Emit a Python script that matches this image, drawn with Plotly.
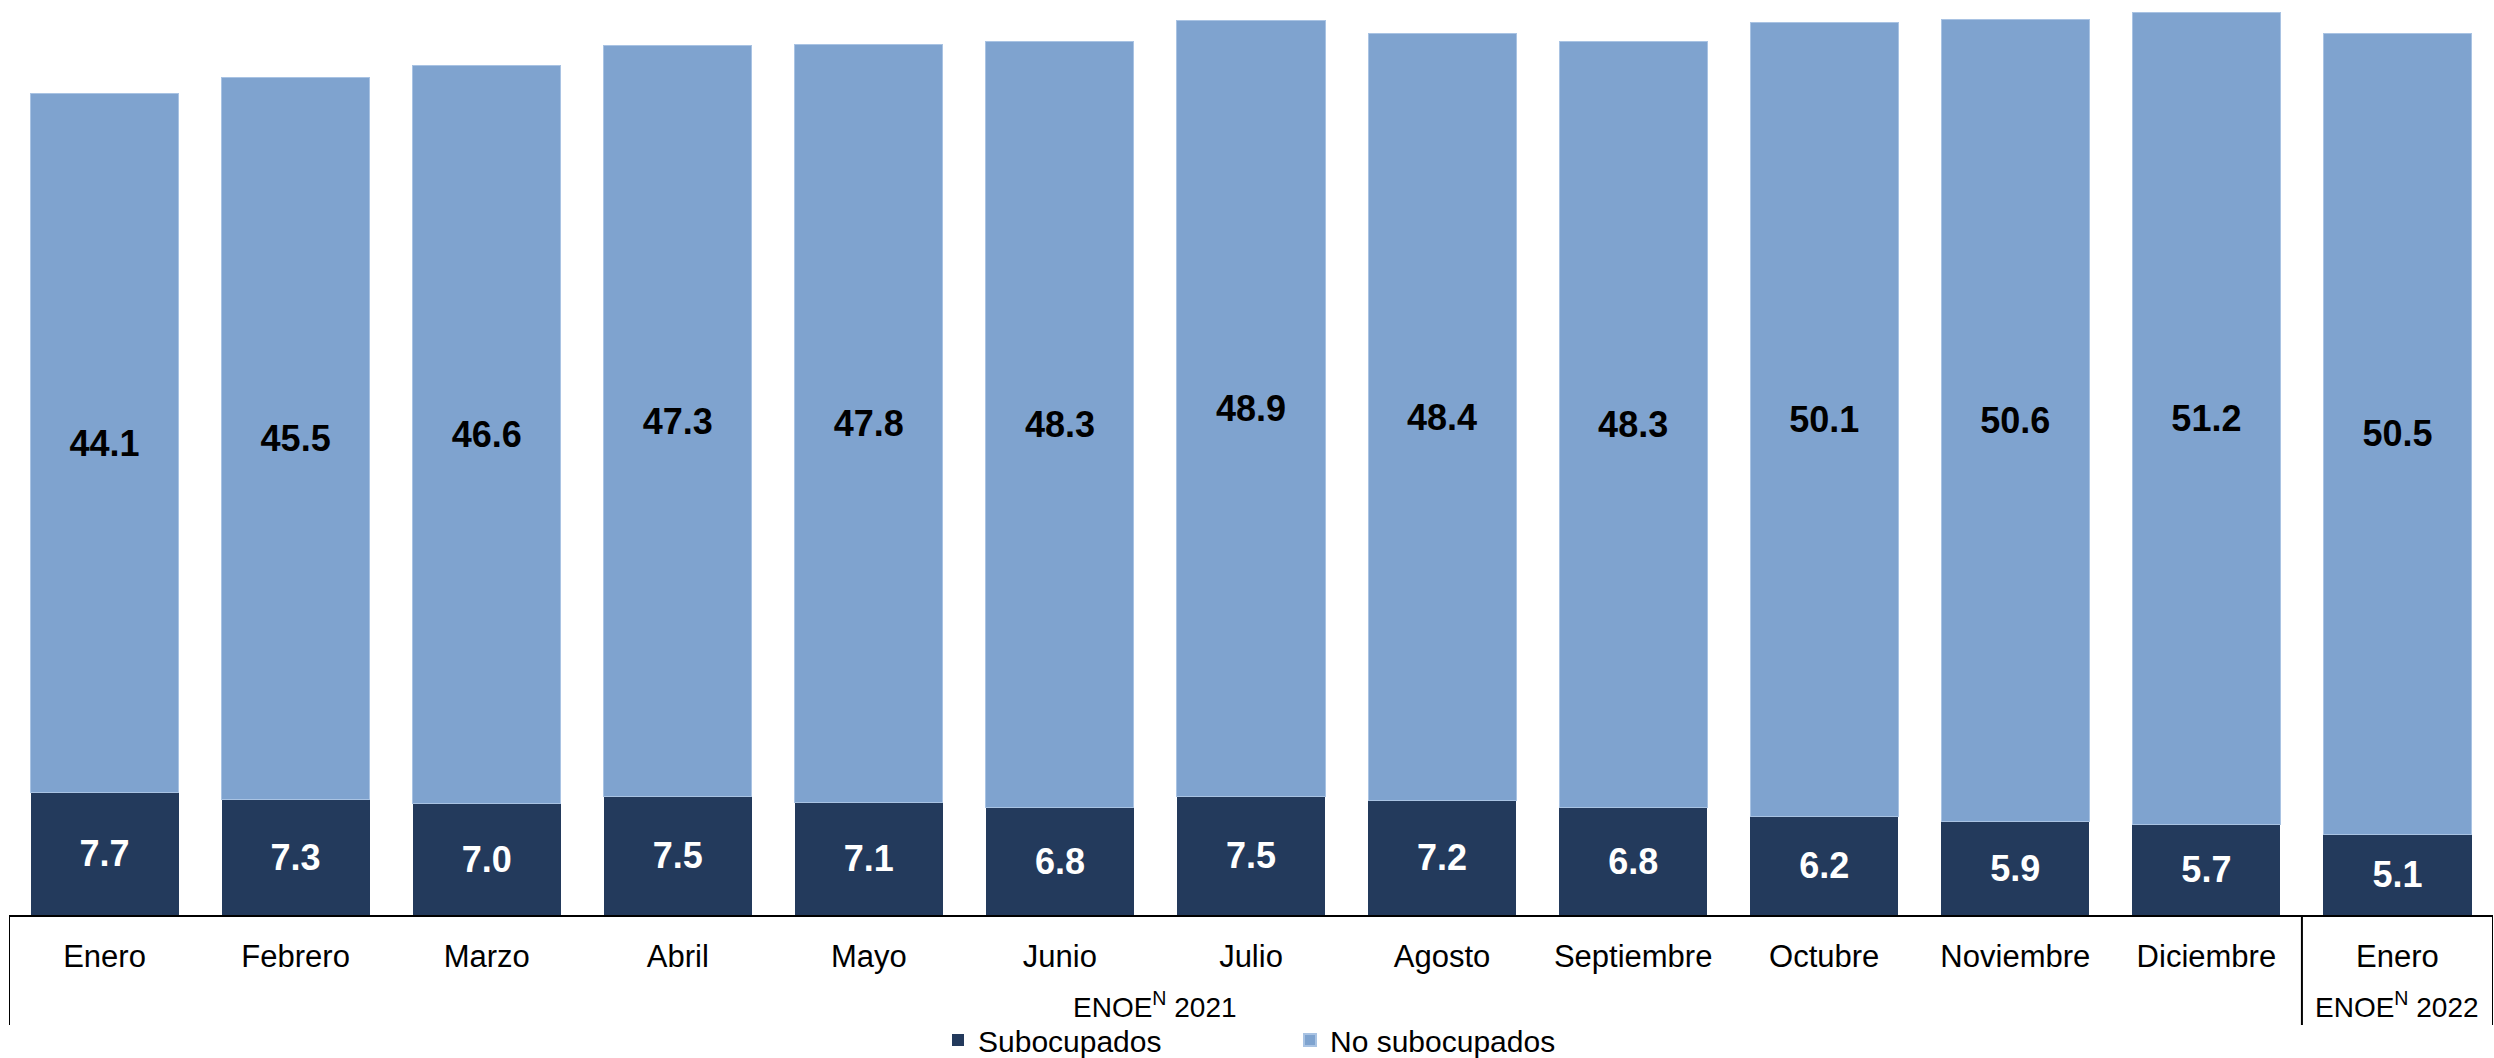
import plotly.graph_objects as go

categories = ["Enero", "Febrero", "Marzo", "Abril", "Mayo", "Junio", "Julio",
              "Agosto", "Septiembre", "Octubre", "Noviembre", "Diciembre", "Enero"]
subocupados = [7.7, 7.3, 7.0, 7.5, 7.1, 6.8, 7.5, 7.2, 6.8, 6.2, 5.9, 5.7, 5.1]
no_subocupados = [44.1, 45.5, 46.6, 47.3, 47.8, 48.3, 48.9, 48.4, 48.3, 50.1, 50.6, 51.2, 50.5]
groups = [("ENOE<sup>N</sup> 2021", 0, 11), ("ENOE<sup>N</sup> 2022", 12, 12)]

x = list(range(len(categories)))
DARK = "#233A5C"
LIGHT = "#7FA3CF"
FONT = "Liberation Sans, Arial, sans-serif"
W, H = 2494, 1058

fig = go.Figure()
fig.add_trace(go.Bar(
    x=x, y=subocupados, name="Subocupados", marker=dict(color=DARK, line=dict(width=0)),
    text=[f"<b>{v:.1f}</b>" for v in subocupados], textposition="inside",
    insidetextanchor="middle", textangle=0,
    textfont=dict(color="white", size=36, family=FONT),
))
fig.add_trace(go.Bar(
    x=x, y=no_subocupados, name="No subocupados",
    marker=dict(color=LIGHT, line=dict(width=1, color="#A9C3E3")),
    text=[f"<b>{v:.1f}</b>" for v in no_subocupados], textposition="inside",
    insidetextanchor="middle", textangle=0,
    textfont=dict(color="black", size=36, family=FONT),
))

H_PLOT = 915
shapes = []
depth = 110 / H_PLOT
for xs in [-0.5, 11.5, 12.5]:
    shapes.append(dict(type="line", xref="x", yref="paper", x0=xs, x1=xs, y0=0, y1=-depth,
                       line=dict(color="black", width=2)))

annotations = []
for label, a, b in groups:
    annotations.append(dict(text=label, x=(a + b) / 2, xref="x", y=-90 / H_PLOT, yref="paper",
                            showarrow=False, yanchor="middle",
                            font=dict(size=28, family=FONT, color="black")))

fig.update_layout(
    width=W, height=H,
    margin=dict(l=9, r=1, t=0, b=143),
    barmode="stack", bargap=0.225,
    plot_bgcolor="white", paper_bgcolor="white",
    font=dict(family=FONT, color="black"),
    xaxis=dict(tickvals=x, ticktext=categories, range=[-0.5, 12.5],
               showline=True, linecolor="black", linewidth=2, ticks="",
               tickfont=dict(size=31, family=FONT, color="black"), showgrid=False,
               ticklabelstandoff=13, automargin=False),
    yaxis=dict(range=[0, 57.7], visible=False, showgrid=False),
    legend=dict(orientation="h", xref="container", yref="container",
                x=938 / W, xanchor="left", y=(H - 1040) / H, yanchor="middle",
                traceorder="normal",
                font=dict(size=30, family=FONT), entrywidth=307, entrywidthmode="pixels",
                itemsizing="constant"),
    shapes=shapes, annotations=annotations,
    uniformtext=dict(minsize=36, mode="show"),
)

fig.write_html("out.html", config={"displayModeBar": False},
               post_script="document.body.style.margin='0';document.body.style.overflow='hidden';")
